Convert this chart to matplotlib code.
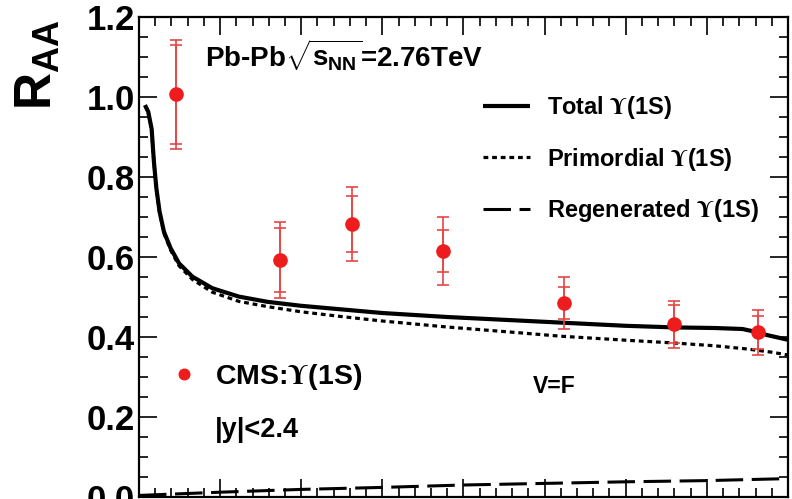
import matplotlib
matplotlib.use("Agg")
import matplotlib.pyplot as plt
from matplotlib.ticker import MultipleLocator, FormatStrFormatter

plt.rcParams.update({
    "font.family": ["Liberation Sans", "DejaVu Sans"],
    "font.weight": "bold",
    "mathtext.fontset": "custom",
    "mathtext.rm": "Liberation Sans:bold",
    "mathtext.it": "Liberation Sans:bold",
    "mathtext.bf": "Liberation Sans:bold",
    "mathtext.sf": "STIXGeneral",
})

# CMS Upsilon(1S) nuclear modification factor vs. Npart
npart_cms = [22.8, 86.9, 131.3, 187.4, 262.0, 329.7, 381.5]
raa_cms = [1.007, 0.592, 0.683, 0.615, 0.485, 0.432, 0.412]
err_total = [0.136, 0.095, 0.092, 0.084, 0.064, 0.059, 0.056]
err_stat = [0.124, 0.080, 0.070, 0.053, 0.040, 0.047, 0.041]

# Transport-model curves
npart_total = [3.7, 5.7, 7.8, 9.2, 10.7, 12.7, 15.4, 19.5, 24.7, 32.9, 45.2, 61.6,
               79.1, 100, 125, 150, 190, 230, 260, 300, 330, 355, 372, 380, 387, 400]
raa_total = [0.980, 0.963, 0.920, 0.838, 0.772, 0.713, 0.663, 0.622, 0.584, 0.551,
             0.522, 0.501, 0.488, 0.478, 0.469, 0.460, 0.450, 0.442, 0.436, 0.428,
             0.424, 0.4225, 0.420, 0.413, 0.405, 0.393]

npart_prim = [3.7, 5.7, 7.8, 9.2, 10.7, 12.7, 15.4, 19.5, 24.7, 32.9, 45.2, 61.6,
              79.1, 100, 125, 150, 190, 230, 260, 300, 330, 355, 375, 390, 400]
raa_prim = [0.978, 0.961, 0.918, 0.836, 0.770, 0.710, 0.659, 0.617, 0.578, 0.544,
            0.512, 0.489, 0.476, 0.463, 0.451, 0.440, 0.425, 0.412, 0.402, 0.392,
            0.385, 0.378, 0.370, 0.362, 0.355]

npart_regen = [0, 25, 50, 100, 150, 200, 250, 300, 350, 400]
raa_regen = [0.004, 0.008, 0.012, 0.019, 0.024, 0.030, 0.034, 0.038, 0.041, 0.046]

UPS = r"$\mathsf{\Upsilon}$"
label_total = "Total " + UPS + "(1S)"
label_prim = "Primordial " + UPS + "(1S)"
label_regen = "Regenerated " + UPS + "(1S)"
label_cms = "CMS:" + UPS + "(1S)"

red = "#ee1c1c"
bar_red = "#e84545"

fig = plt.figure(figsize=(7.92, 4.99), dpi=100)
ax = fig.add_axes([0.1755, 0.004, 0.8194, 0.9619])

l_tot, = ax.plot(npart_total, raa_total, color="black", lw=3.0,
                 solid_capstyle="butt", label=label_total)
l_prim, = ax.plot(npart_prim, raa_prim, color="black", lw=2.3,
                  linestyle=(0, (1.5, 1.2)), label=label_prim)
l_reg, = ax.plot(npart_regen, raa_regen, color="black", lw=2.2,
                 linestyle=(0, (9.0, 2.8)), label=label_regen)

ax.errorbar(npart_cms, raa_cms, yerr=err_total, fmt="none", ecolor=bar_red,
            elinewidth=1.2, capsize=4.5, capthick=1.2, zorder=4)
ax.errorbar(npart_cms, raa_cms, yerr=err_stat, fmt="none", ecolor=bar_red,
            elinewidth=1.2, capsize=4.5, capthick=1.2, zorder=4)
l_cms, = ax.plot(npart_cms, raa_cms, "o", color=red, ms=9.5, mec=red,
                 zorder=5, label=label_cms)

ax.set_xlim(0, 400)
ax.set_ylim(0, 1.2)
ax.xaxis.set_major_locator(MultipleLocator(50))
ax.xaxis.set_minor_locator(MultipleLocator(10))
ax.yaxis.set_major_locator(MultipleLocator(0.2))
ax.yaxis.set_minor_locator(MultipleLocator(0.05))
ax.yaxis.set_major_formatter(FormatStrFormatter("%.1f"))

ax.tick_params(which="both", direction="in", top=True, right=True, width=1.2,
               labelbottom=False)
ax.tick_params(which="major", length=13, labelsize=25, pad=3)
ax.tick_params(which="minor", length=6.5)
for s in ax.spines.values():
    s.set_linewidth(1.6)

ax.set_ylabel(r"$\mathrm{R_{AA}}$", fontsize=37, ha="center", va="center")
ax.yaxis.set_label_coords(-0.155, 0.90)

prop = {"family": "Liberation Sans", "weight": "bold", "size": 17}
leg1 = ax.legend(handles=[l_tot, l_prim, l_reg], loc="upper left",
                 bbox_to_anchor=(0.530, 0.840), frameon=False, prop=prop,
                 borderpad=0, borderaxespad=0, handlelength=2.0,
                 handletextpad=0.7, labelspacing=1.05)
ax.add_artist(leg1)
prop_cms = {"family": "Liberation Sans", "weight": "bold", "size": 20.5}
ax.legend(handles=[l_cms], loc="upper left", bbox_to_anchor=(0.0512, 0.281),
          frameon=False, prop=prop_cms, borderpad=0, borderaxespad=0,
          handlelength=0.8, handletextpad=0.70, markerscale=0.8)

ax.text(0.1017, 0.896, r"Pb-Pb$\sqrt{s_{NN}}$=2.76TeV", transform=ax.transAxes,
        fontsize=20, fontweight="bold", ha="left", va="baseline")
ax.text(0.117, 0.140, "|y|<2.4", transform=ax.transAxes, fontsize=19.5,
        fontweight="bold", ha="left", va="center")
ax.text(0.607, 0.231, "V=F", transform=ax.transAxes, fontsize=16.5,
        fontweight="bold", ha="left", va="center")

fig.savefig("out.png", dpi=100)
